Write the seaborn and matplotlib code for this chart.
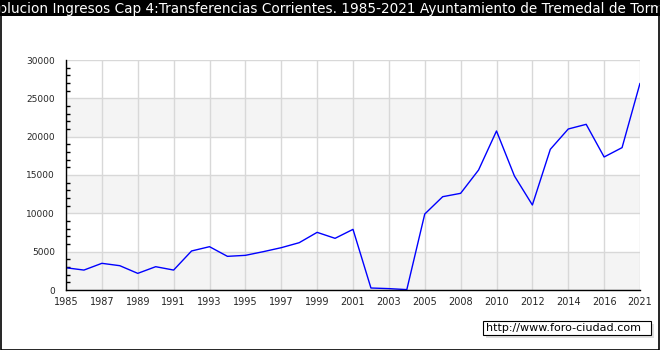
import numpy as np
import pandas as pd
import matplotlib
matplotlib.use("Agg")
import matplotlib.pyplot as plt
import matplotlib.patches as mpatches
import seaborn as sns
from matplotlib.ticker import MultipleLocator

# data
years = [1985, 1986, 1987, 1988, 1989, 1990, 1991, 1992, 1993, 1994,
         1995, 1996, 1997, 1998, 1999, 2000, 2001, 2002, 2003, 2004,
         2005, 2007, 2008, 2009, 2010, 2011, 2012, 2013, 2014, 2015,
         2016, 2020, 2021]
values = [2900, 2600, 3480, 3170, 2170, 3040, 2600, 5090, 5650, 4390,
          4520, 5000, 5520, 6170, 7520, 6740, 7910, 260, 180, 50,
          9910, 12170, 12610, 15650, 20740, 14870, 11090, 18350, 21000, 21610,
          17350, 18570, 26960]
title = ("Evolucion Ingresos Cap 4:Transferencias Corrientes. 1985-2021 "
         "Ayuntamiento de Tremedal de Tormes")
watermark = "http://www.foro-ciudad.com"

df = pd.DataFrame({"pos": np.arange(len(years)), "year": years, "value": values})

sns.set_style("white")
plt.rcParams['font.family'] = ['DejaVu Sans']

W, H = 660, 350
fig = plt.figure(figsize=(W / 100, H / 100), dpi=100)
fig.patch.set_facecolor("white")

# axes box: x 66..640, y 60..290 (pixels from top)
ax = fig.add_axes([66 / W, 1 - 290 / H, (640 - 66) / W, (290 - 60) / H])
ax.set_facecolor("white")

# alternating horizontal bands
for lo in range(0, 30000, 10000):
    ax.axhspan(lo, lo + 5000, color="#f4f4f4", zorder=0, lw=0)

sns.lineplot(data=df, x="pos", y="value", ax=ax, color="#0000ff",
             linewidth=1, zorder=3)

ax.set_xlim(0, len(years) - 1)
ax.set_ylim(0, 30000)
ax.set_xticks(df["pos"][::2])
ax.set_xticklabels([str(y) for y in df["year"][::2]], fontsize=7)
ax.yaxis.set_major_locator(MultipleLocator(5000))
ax.yaxis.set_minor_locator(MultipleLocator(1000))
ax.tick_params(axis="y", which="major", direction="in", length=6, width=1,
               labelsize=6.5, pad=8, color="black")
ax.tick_params(axis="y", which="minor", direction="in", length=3, width=1,
               color="black", left=True)
ax.tick_params(axis="x", which="major", direction="in", length=5, width=1,
               labelsize=7, pad=5, color="black")
ax.grid(True, which="major", color="#d8d8d8", linewidth=1, zorder=1)
ax.set_axisbelow(True)
ax.set_xlabel("")
ax.set_ylabel("")
for side in ["top", "right"]:
    ax.spines[side].set_visible(False)
for side in ["left", "bottom"]:
    ax.spines[side].set_color("black")
    ax.spines[side].set_linewidth(1)
    ax.spines[side].set_zorder(4)

# title bar
fig.patches.append(mpatches.Rectangle((0, 1 - 16 / H), 1, 16 / H,
                                      transform=fig.transFigure,
                                      facecolor="black", edgecolor="none", zorder=0))
fig.text(0.5, 1 - 8.5 / H, title, color="white", fontsize=9.8,
         ha="center", va="center")

# outer border
fig.patches.append(mpatches.Rectangle((0.5 / W, 0.5 / H), 1 - 2 / W, 1 - 1.5 / H,
                                      transform=fig.transFigure, fill=False,
                                      edgecolor="black", linewidth=1.2, zorder=5))

# watermark box with shadow
bx0, by0, bx1, by1 = 483, 321, 651, 335
fig.patches.append(mpatches.Rectangle(((bx0 + 3) / W, 1 - (by1 + 3) / H),
                                      (bx1 - bx0) / W, (by1 - by0) / H,
                                      transform=fig.transFigure,
                                      facecolor="#e0e0e0", edgecolor="none"))
fig.patches.append(mpatches.Rectangle((bx0 / W, 1 - by1 / H),
                                      (bx1 - bx0) / W, (by1 - by0) / H,
                                      transform=fig.transFigure,
                                      facecolor="white", edgecolor="black",
                                      linewidth=0.8))
fig.text((bx0 + 3) / W, 1 - (by0 + by1) / 2 / H, watermark, fontsize=8,
         ha="left", va="center", color="black")

fig.savefig("out.png", dpi=100)
